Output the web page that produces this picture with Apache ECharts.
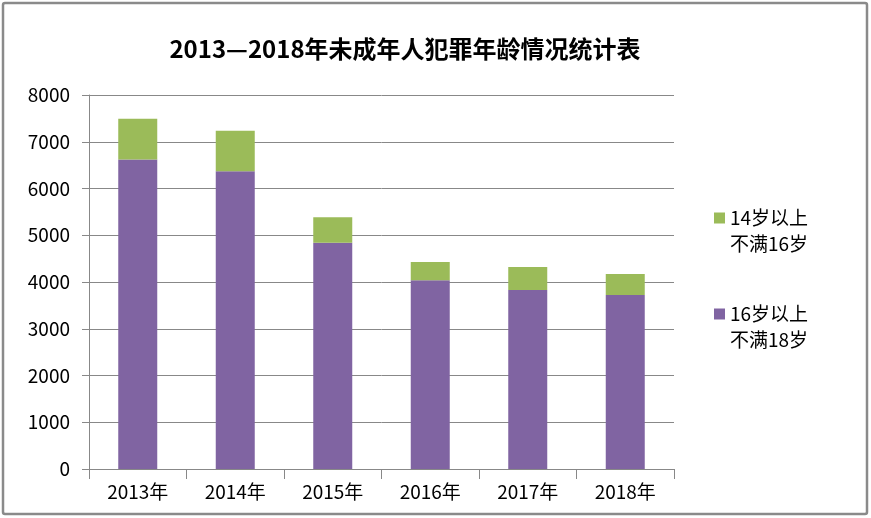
<!DOCTYPE html>
<html>
<head>
<meta charset="utf-8">
<script src="https://cdn.jsdelivr.net/npm/echarts@6/dist/echarts.min.js"></script>
<style>html,body{margin:0;padding:0;background:#fff}#c{width:871px;height:518px}</style>
</head>
<body>
<div id="c"></div>
<script>
var categories = ['2013年', '2014年', '2015年', '2016年', '2017年', '2018年'];
var age16to18 = [6620, 6370, 4840, 4040, 3830, 3720];
var age14to16 = [870, 865, 545, 390, 490, 450];
var seriesNames = ['\n14岁以上\n不满16岁', '\n16岁以上\n不满18岁'];
var titleText = '2013—2018年未成年人犯罪年龄情况统计表';

var FONT = '"Noto Sans CJK SC", "Noto Sans", sans-serif';
var chart = echarts.init(document.getElementById('c'));
chart.setOption({
  animation: false,
  backgroundColor: '#fff',
  title: {
    text: titleText,
    left: 400, top: 32, textAlign: 'center',
    textStyle: { fontFamily: FONT, fontSize: 24, fontWeight: 'bold', color: '#000' }
  },
  graphic: [{
    type: 'rect', shape: { x: 3, y: 3, width: 864, height: 511, r: 2 },
    style: { fill: 'none', stroke: '#8a8a8a', lineWidth: 2.5 }, silent: true
  }],
  legend: {
    orient: 'vertical', left: 709, top: 174,
    itemWidth: 11, itemHeight: 11, itemGap: 18,
    icon: 'rect',
    data: [seriesNames[0], seriesNames[1]],
    textStyle: { fontFamily: FONT, fontSize: 19, lineHeight: 26, color: '#000' }
  },
  grid: { left: 89, right: 197, top: 95, bottom: 49, containLabel: false },
  xAxis: {
    type: 'category', data: categories,
    axisLine: { lineStyle: { color: '#888', width: 1 } },
    axisTick: { show: true, length: 10, alignWithLabel: false, lineStyle: { color: '#888' } },
    axisLabel: { fontFamily: FONT, fontSize: 19, color: '#000', margin: 13 }
  },
  yAxis: {
    type: 'value', min: 0, max: 8000, interval: 1000,
    axisLine: { show: true, lineStyle: { color: '#888', width: 1 } },
    axisTick: { show: true, length: 7, lineStyle: { color: '#888' } },
    axisLabel: { fontFamily: FONT, fontSize: 19, color: '#000', margin: 19,
      formatter: function (v) { return String(v); } },
    splitLine: { show: true, lineStyle: { color: '#888', width: 1 } }
  },
  series: [
    { name: seriesNames[1], type: 'bar', stack: 's', data: age16to18, barWidth: '40%',
      itemStyle: { color: '#8064A2' } },
    { name: seriesNames[0], type: 'bar', stack: 's', data: age14to16, barWidth: '40%',
      itemStyle: { color: '#9BBB59' } }
  ]
});
</script>
</body>
</html>
